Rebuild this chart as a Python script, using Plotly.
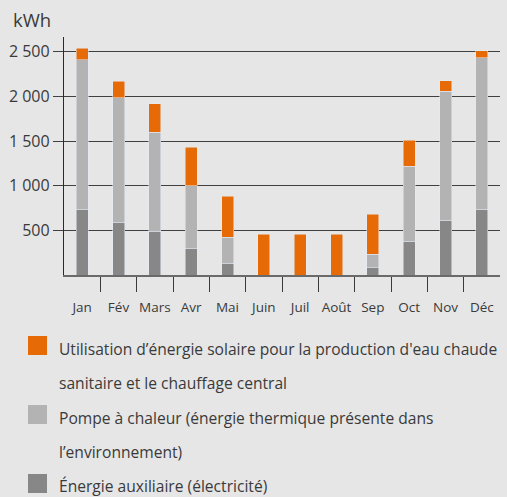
import plotly.graph_objects as go

months = ["Jan", "Fév", "Mars", "Avr", "Mai", "Juin", "Juil", "Août", "Sep", "Oct", "Nov", "Déc"]
auxiliaire = [735, 590, 490, 300, 130, 0, 0, 0, 80, 380, 615, 735]
pompe = [1675, 1395, 1110, 700, 290, 0, 0, 0, 150, 840, 1445, 1695]
solaire = [130, 185, 315, 430, 460, 455, 455, 455, 450, 290, 115, 80]
y_ticks = [500, 1000, 1500, 2000, 2500]
y_labels = ["500", "1 000", "1 500", "2 000", "2 500"]

legend_lines = [
    ["Utilisation d’énergie solaire pour la production d'eau chaude", "sanitaire et le chauffage central"],
    ["Pompe à chaleur (énergie thermique présente dans", "l’environnement)"],
    ["Énergie auxiliaire (électricité)"],
]

month_pos = list(range(len(months)))
boundaries = [i + 0.5 for i in month_pos[:-1]]

C_ORANGE = "#e66a05"
C_LIGHT = "#b3b3b3"
C_DARK = "#878787"
BG = "#e6e6e6"
TXT = "#3a3a3a"
FONT = "Open Sans"

W, H = 507, 497
L, R, T, B = 64, 7, 37, 222
pw, ph = W - L - R, H - T - B

def px(x):
    return (x - L) / pw

def py(y):
    return (H - B - y) / ph

fig = go.Figure()
fig.add_bar(x=month_pos, y=auxiliaire, marker_color=C_DARK, name=legend_lines[2][0], showlegend=False)
fig.add_bar(x=month_pos, y=pompe, marker_color=C_LIGHT, name=" ".join(legend_lines[1]), showlegend=False)
fig.add_bar(x=month_pos, y=solaire, marker_color=C_ORANGE, name=" ".join(legend_lines[0]), showlegend=False)

shapes = []
annotations = []
legend_rows = [
    (C_ORANGE, 336, legend_lines[0], 349),
    (C_LIGHT, 405, legend_lines[1], 418),
    (C_DARK, 474, legend_lines[2], 486),
]
for color, sq_top, lines, text_y in legend_rows:
    shapes.append(dict(type="rect", xref="paper", yref="paper",
                       x0=px(28), x1=px(47), y0=py(sq_top + 19), y1=py(sq_top),
                       fillcolor=color, line_width=0))
    for i, line in enumerate(lines):
        annotations.append(dict(text=line, xref="paper", yref="paper",
                                x=px(57), y=py(text_y + i * 34), xanchor="left", yanchor="middle",
                                showarrow=False, font=dict(size=15.6, color=TXT, family=FONT)))

annotations.append(dict(text="kWh", xref="paper", yref="paper", x=px(11), y=py(19),
                        xanchor="left", yanchor="middle", showarrow=False,
                        font=dict(size=18.5, color=TXT, family=FONT)))

fig.update_layout(
    width=W, height=H,
    margin=dict(l=L, r=R, t=T, b=B),
    paper_bgcolor=BG, plot_bgcolor=BG,
    barmode="stack", bargap=0.67,
    font=dict(family=FONT, color=TXT),
    shapes=shapes, annotations=annotations,
    xaxis=dict(showgrid=False, showline=True, linecolor="#6a6a6a", linewidth=1.5, zeroline=False,
               tickvals=month_pos, ticktext=months,
               ticks="outside", ticklen=19, tickcolor="rgba(0,0,0,0)",
               minor=dict(tickvals=boundaries, ticks="outside", ticklen=15,
                          tickcolor="#3a3a3a", tickwidth=1.3, showgrid=False),
               tickangle=0, tickfont=dict(size=13.5, color=TXT), range=[-0.5, 11.5]),
    yaxis=dict(range=[0, 2665], tickvals=y_ticks, ticktext=y_labels, showgrid=True,
               gridcolor="#404040", gridwidth=1, showline=True, linecolor="#2a2a2a", linewidth=1.3,
               ticks="outside", ticklen=10, tickcolor="#404040",
               tickfont=dict(size=16, color=TXT), zeroline=False),
)

fig.write_html("out.html", config={"displayModeBar": False},
               post_script="document.body.style.margin='0';document.body.style.background='#e6e6e6';")
